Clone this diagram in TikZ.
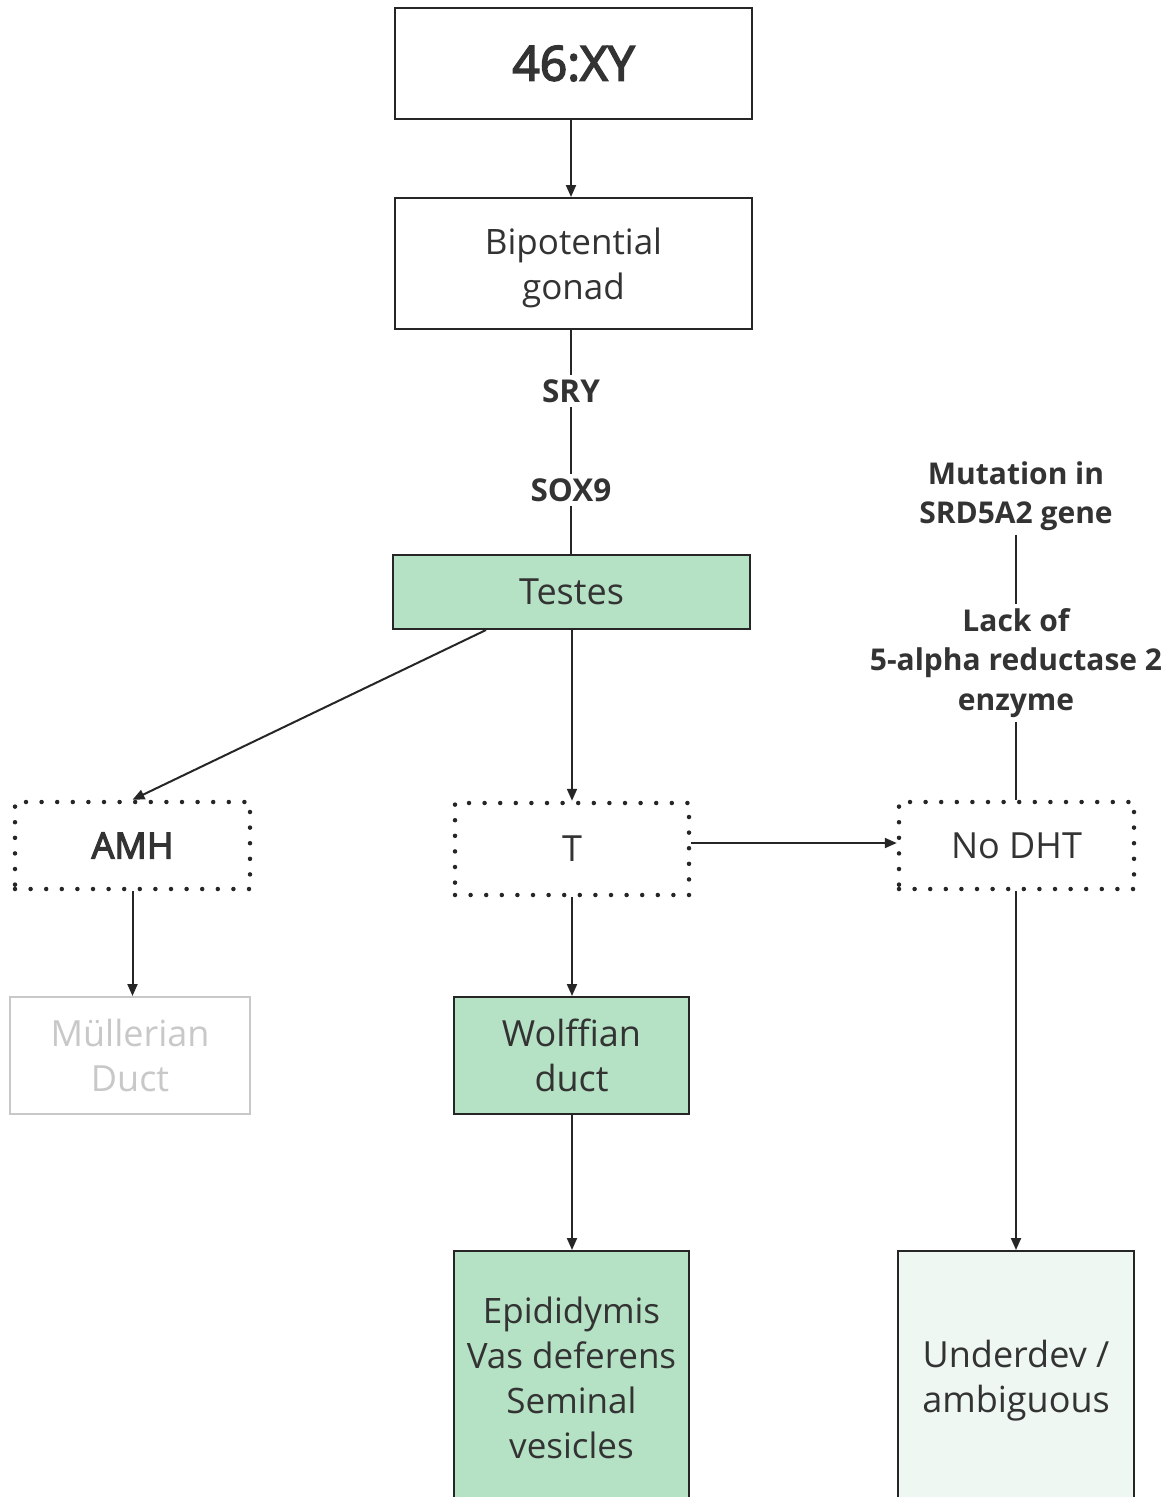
\documentclass[tikz,border=0pt]{standalone}
\usepackage{fontspec}
\setmainfont{Open Sans}
\newfontfamily\heavy[FakeBold=3.5]{Open Sans}
\usetikzlibrary{arrows.meta}

\definecolor{ink}{HTML}{333333}
\definecolor{edge}{HTML}{262626}
\definecolor{leaf}{HTML}{B5E1C4}
\definecolor{pale}{HTML}{EEF7F1}
\definecolor{faded}{HTML}{C8C8C8}

\tikzset{
  box/.style={rectangle, draw=edge, line width=2pt, text=ink, align=center, inner sep=0pt},
  dotbox/.style={rectangle, draw=edge, line width=4.5pt, dash pattern=on 0pt off 15.6pt,
    line cap=round, text=ink, align=center, inner sep=0pt},
  greybox/.style={rectangle, draw=faded, line width=2pt, text=faded, align=center, inner sep=0pt},
  tag/.style={text=ink, align=center, inner sep=4pt, font=\bfseries\fontsize{30}{39.5}\selectfont},
  gene/.style={tag, font=\bfseries\fontsize{31.5}{39.5}\selectfont},
  big/.style={font=\fontsize{36}{45}\selectfont},
  mid/.style={font=\fontsize{35}{45}\selectfont},
  arrow/.style={draw=edge, line width=2pt, -{Triangle[length=12pt,width=10pt]}},
  link/.style={draw=edge, line width=2pt},
}

\begin{document}
\begin{tikzpicture}[x=1pt, y=-1pt]
\useasboundingbox[fill=white] (0,0) rectangle (1173,1497);
\begin{scope}
\clip (0,0) rectangle (1173,1497);

% karyotype and gonad
\node[box, minimum width=357, minimum height=111, font=\heavy\fontsize{48}{58}\selectfont]
  (xy) at (573.5,63.5) {46:XY};
\node[box, mid, minimum width=357, minimum height=131]
  (gonad) at (573.5,263.5) {\rule{0pt}{35pt}Bipotential\\gonad};

% sex-determining genes
\node[gene] (sry) at (571,391) {SRY};
\node[gene] (sox) at (571,490) {SOX9};

\node[box, big, fill=leaf, minimum width=357, minimum height=74]
  (testes) at (571.5,592) {Testes};

% hormones
\node[dotbox, font=\heavy\fontsize{36}{45}\selectfont, minimum width=235, minimum height=87]
  (amh) at (132.5,845.5) {AMH};
\node[dotbox, big, minimum width=234, minimum height=92] (tnode) at (572,849) {T};
\node[dotbox, big, minimum width=235, minimum height=87] (nodht) at (1016.5,845.5) {No DHT};

% enzyme defect
\node[tag] (mut) at (1016,496) {Mutation in\\SRD5A2 gene};
\node[tag] (lack) at (1016,663) {Lack of\\5-alpha reductase 2\\enzyme};

% ducts
\node[greybox, big, minimum width=240, minimum height=117] (mull) at (130,1055.5) {Müllerian\\Duct};
\node[box, big, fill=leaf, minimum width=235, minimum height=117] (wolff) at (571.5,1055.5) {Wolffian\\duct};

% outcomes
\node[box, mid, fill=leaf, minimum width=235, minimum height=259]
  (epi) at (571.5,1380.5) {Epididymis\\Vas deferens\\Seminal\\vesicles\rule[-6pt]{0pt}{6pt}};
\node[box, big, fill=pale, minimum width=236, minimum height=259]
  (under) at (1016,1380.5) {Underdev /\\ambiguous};
\end{scope}

% connectors
\draw[arrow] (xy.south -| sry.north) -- (gonad.north -| sry.north);
\draw[link] (gonad.south -| sry.north) -- (sry.north);
\draw[link] (sry.south) -- (sox.north);
\draw[link] (sox.south) -- (testes.north -| sox.south);
\draw[arrow] ([xshift=94pt]testes.south west) -- (amh.north);
\draw[arrow] (testes.south -| tnode.north) -- (tnode.north);
\draw[arrow] ([yshift=6pt]tnode.east) -- ([yshift=2.5pt]nodht.west);
\draw[link] (mut.south) -- (lack.north);
\draw[link] (lack.south) -- (nodht.north -| lack.south);
\draw[arrow] (amh.south) -- (mull.north -| amh.south);
\draw[arrow] (tnode.south) -- (wolff.north -| tnode.south);
\draw[arrow] (wolff.south -| tnode.south) -- (epi.north -| tnode.south);
\draw[arrow] (nodht.south -| under.north) -- (under.north);
\end{tikzpicture}
\end{document}
